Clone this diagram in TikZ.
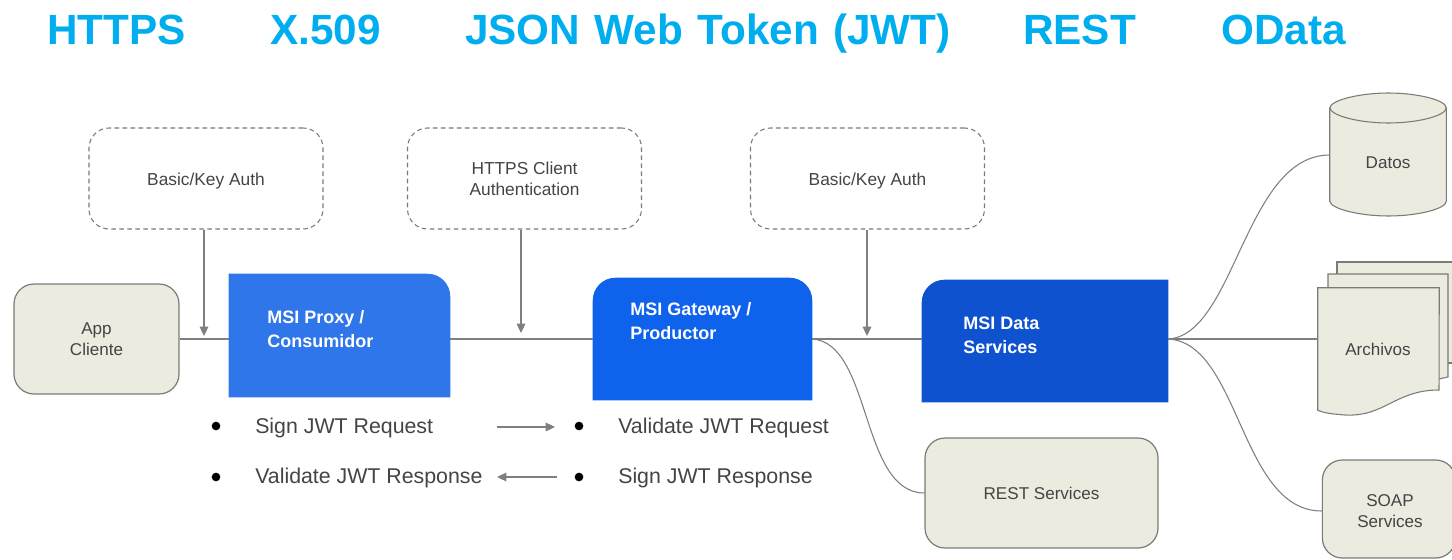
\documentclass[tikz,border=0pt]{standalone}
\usepackage{fontspec}
\setmainfont{Liberation Sans}
\usetikzlibrary{arrows.meta}
\definecolor{headc}{HTML}{00AEEF}
\definecolor{sand}{HTML}{ECEBE0}
\definecolor{edgec}{HTML}{7A7A76}
\definecolor{linec}{HTML}{7F7F7F}
\definecolor{txt}{HTML}{444444}
\definecolor{blueA}{HTML}{2F76EA}
\definecolor{blueB}{HTML}{0F62EC}
\definecolor{blueC}{HTML}{0F52D0}
\tikzset{
  heading/.style={anchor=base west,inner sep=0,text=headc,font=\fontsize{31.7}{36}\selectfont\bfseries},
  sandbox/.style={draw=edgec,fill=sand,line width=.9pt,rounded corners=15pt,inner sep=0,text=txt,align=center,font=\fontsize{12.8}{15.75}\selectfont},
  authbox/.style={draw=edgec,dash pattern=on 3.5pt off 2.5pt,line width=.8pt,rounded corners=15pt,inner sep=0,text=txt,align=center,minimum width=175.5pt,minimum height=75.75pt,font=\fontsize{13}{15.75}\selectfont},
  framebox/.style={inner sep=0},
  bluetext/.style={anchor=west,inner sep=0,text=white,align=left,font=\fontsize{13.5}{18}\selectfont\bfseries},
  shapetext/.style={inner sep=0,text=txt,align=center,font=\fontsize{12.8}{15.75}\selectfont},
  jwt/.style={anchor=west,inner sep=0,text=txt,font=\fontsize{16}{19}\selectfont},
  dot/.style={circle,fill=black,inner sep=0,minimum size=6.5pt},
  link/.style={draw=linec,line width=.8pt},
  tiplink/.style={link,-{Triangle[length=7pt,width=6.5pt]}},
  sheet/.style={draw=edgec,fill=sand,line width=.8pt},
}
\begin{document}
\begin{tikzpicture}[x=.75pt,y=-.75pt]
\useasboundingbox (0,0) rectangle (1452,560);
\clip (0,0) rectangle (1452,560);

% headings
\node[heading] (h1) at (47,45) {HTTPS};
\node[heading] (h2) at (270,45) {X.509};
\node[heading] (h3) at (465,45) {\spaceskip=10.8pt JSON Web Token (JWT)};
\node[heading] (h4) at (1023,45) {REST};
\node[heading] (h5) at (1221,45) {OData};

% auth boxes
\node[authbox] (auth1) at (206,178.5) {\raisebox{-5.25pt}[0pt][0pt]{Basic/Key Auth}};
\node[authbox] (auth2) at (524.5,178.5) {HTTPS Client\\Authentication};
\node[authbox] (auth3) at (867.5,178.5) {\raisebox{-5.25pt}[0pt][0pt]{Basic/Key Auth}};

% plain boxes
\node[sandbox,minimum width=123.75pt,minimum height=82.5pt] (app) at (96.5,339) {App\\Cliente};
\node[sandbox,minimum width=174.75pt,minimum height=82.5pt] (rest) at (1041.5,493) {REST Services};
\node[sandbox,minimum width=100pt,minimum height=73.5pt] (soap) at (1389,509) {};
\node[shapetext] (soaptext) at (1390,511) {SOAP\\Services};

% frames of the blue boxes
\node[framebox,minimum width=165.75pt,minimum height=92.25pt] (proxy) at (339.5,335.5) {};
\node[framebox,minimum width=164.25pt,minimum height=91.5pt] (gateway) at (702.5,339) {};
\node[framebox,minimum width=184.5pt,minimum height=91.5pt] (data) at (1045,341) {};
\fill[blueA] (proxy.south west) -- (proxy.north west) [rounded corners=17pt] -- (proxy.north east) [sharp corners] -- (proxy.south east) -- cycle;
\fill[blueB] (gateway.south west) [rounded corners=17pt] -- (gateway.north west) -- (gateway.north east) [sharp corners] -- (gateway.south east) -- cycle;
\fill[blueC] (data.south west) [rounded corners=17pt] -- (data.north west) [sharp corners] -- (data.north east) -- (data.south east) -- cycle;
\node[bluetext] (proxytext) at (267,329) {MSI Proxy /\\Consumidor};
\node[bluetext] (gatewaytext) at (630,321) {MSI Gateway /\\Productor};
\node[bluetext] (datatext) at (963,335) {MSI Data\\Services};

% Datos cylinder
\node[framebox,minimum width=87pt,minimum height=92.25pt] (datos) at (1388,154.5) {};
\path (datos.north west) ++(0,15) coordinate (cl) (datos.north east) ++(0,15) coordinate (cr)
  (datos.south west) ++(0,-15) coordinate (bl) (datos.south east) ++(0,-15) coordinate (br);
\draw[sheet] (cl) -- (bl) .. controls (1331,209) and (1360,216) .. (1388.5,216) .. controls (1417,216) and (1446,209) .. (br) -- (cr)
  .. controls (1446,100) and (1417,93) .. (1388.5,93) .. controls (1360,93) and (1331,100) .. (cl) -- cycle;
\draw[sheet,fill=none] (cl) .. controls (1331,116) and (1360,123) .. (1388.5,123) .. controls (1417,123) and (1446,116) .. (cr);
\node[shapetext] (datostext) at (1388,162.5) {Datos};

% Archivos document stack
\node[framebox,minimum width=90.75pt,minimum height=91.5pt] (archivos) at (1378.5,349) {};
\draw[sheet] (1337,274) -- (1337,262) -- (1470,262) -- (1470,363) -- (1448,363);
\draw[sheet] (1328,288) -- (1328,274) -- (1448,274) -- (1448,377) -- (1439,379);
\draw[sheet] (archivos.north west) -- (archivos.north east) -- (1439,390)
  .. controls (1395,390) and (1385,417) .. (1345,415) .. controls (1332,414) and (1324,413) .. (archivos.south west) -- cycle;
\node[shapetext] (archivostext) at (1378,349) {Archivos};

% connectors
\coordinate (bus) at (0,339);
\coordinate (j1) at (204,336);
\coordinate (j2) at (521,333);
\coordinate (j3) at (867,336);
\draw[link] (app.east) -- (app.east -| proxy.west);
\draw[link] (proxy.east |- bus) -- (gateway.west |- bus);
\draw[link] (gateway.east |- bus) -- (data.west |- bus);
\draw[tiplink] (auth1.south -| j1) -- (j1);
\draw[tiplink] (auth2.south -| j2) -- (j2);
\draw[tiplink] (auth3.south -| j3) -- (j3);
\draw[link] (data.east |- bus) .. controls (1235,335) and (1245,155) .. (datos.west |- 0,155);
\draw[link] (data.east |- bus) -- (archivos.west |- bus);
\draw[link] (data.east |- bus) .. controls (1240,343) and (1240,511) .. (soap.west |- 0,511);
\draw[link] (gateway.east |- bus) .. controls (872,343) and (860,493) .. (rest.west);

% JWT notes
\node[dot] (d1) at (216,426) {};
\node[dot] (d2) at (216,477) {};
\node[dot] (d3) at (579,426) {};
\node[dot] (d4) at (579,477) {};
\node[jwt] (n1) at (255,428) {Sign JWT Request};
\node[jwt] (n2) at (255,478) {Validate JWT Response};
\node[jwt] (n3) at (618,428) {Validate JWT Request};
\node[jwt] (n4) at (618,478) {Sign JWT Response};
\coordinate (a1s) at (497,427);
\coordinate (a1e) at (555,427);
\coordinate (a2s) at (557,477);
\coordinate (a2e) at (497,477);
\draw[tiplink] (a1s) -- (a1e);
\draw[tiplink] (a2s) -- (a2e);
\end{tikzpicture}
\end{document}
